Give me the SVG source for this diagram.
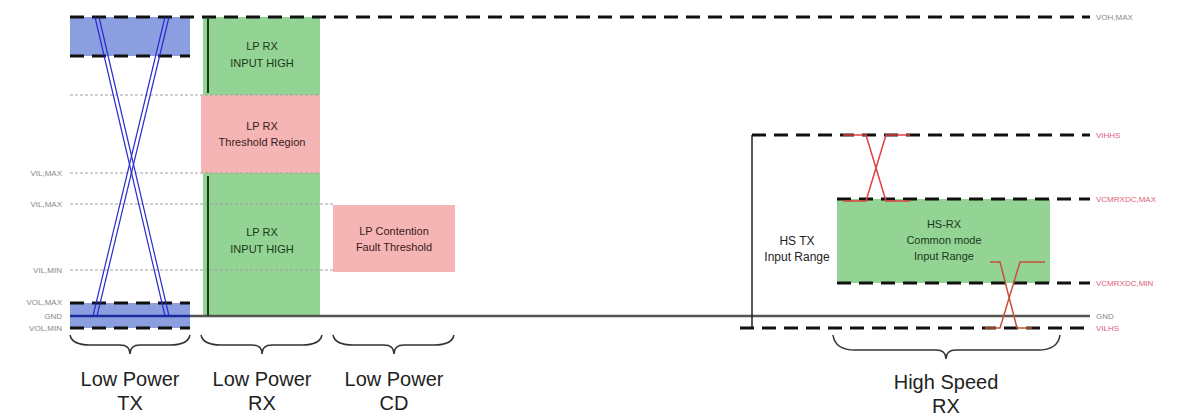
<svg xmlns="http://www.w3.org/2000/svg" width="1198" height="417" viewBox="0 0 1198 417">
<style>
.dash{stroke:#111;stroke-width:3;stroke-dasharray:14 8;fill:none}
.dot{stroke:#a0a0a0;stroke-width:1;stroke-dasharray:3 2;fill:none}
.blue{stroke:#2a2ad0;stroke-width:1.2;fill:none}
.red{stroke:#e04040;stroke-width:1.5;fill:none}
.brace{stroke:#333;stroke-width:1.5;fill:none}
.lbl{font-family:"Liberation Sans",Arial,sans-serif;font-size:8px;fill:#888}
.rlbl{font-family:"Liberation Sans",Arial,sans-serif;font-size:8px;fill:#e0607a}
.box{font-family:"Liberation Sans",Arial,sans-serif;font-size:11px;fill:#1a3a1a;text-anchor:middle}
.pbox{font-family:"Liberation Sans",Arial,sans-serif;font-size:11px;fill:#3a1a1a;text-anchor:middle}
.big{font-family:"Liberation Sans",Arial,sans-serif;font-size:20px;fill:#222;text-anchor:middle}
.mid{font-family:"Liberation Sans",Arial,sans-serif;font-size:12px;fill:#222;text-anchor:middle}
</style>
<rect width="1198" height="417" fill="#fff"/>
<g id="lp-tx">
<rect x="70" y="17" width="120" height="39" fill="#8b9fe0"/>
<rect x="70" y="303" width="120" height="25" fill="#8b9fe0"/>
</g>
<g id="lp-rx-high">
<rect x="203" y="17" width="117" height="78" fill="#93d393"/>
<text class="box" x="262" y="50">LP RX</text>
<text class="box" x="262" y="67">INPUT HIGH</text>
</g>
<g id="lp-rx-threshold">
<rect x="201" y="95" width="119" height="78" fill="#f5b5b5"/>
<text class="pbox" x="262" y="130">LP RX</text>
<text class="pbox" x="262" y="146">Threshold Region</text>
</g>
<g id="lp-rx-low">
<rect x="203" y="173" width="117" height="143" fill="#93d393"/>
<text class="box" x="262" y="236">LP RX</text>
<text class="box" x="262" y="253">INPUT HIGH</text>
</g>
<g id="lp-cd">
<rect x="333" y="205" width="122" height="67" fill="#f5b5b5"/>
<text class="pbox" x="394" y="235">LP Contention</text>
<text class="pbox" x="394" y="251">Fault Threshold</text>
</g>
<g id="hs-rx">
<rect x="837" y="199" width="213" height="84" fill="#93d393"/>
<text class="box" x="944" y="228">HS-RX</text>
<text class="box" x="944" y="244">Common mode</text>
<text class="box" x="944" y="260">Input Range</text>
</g>
<g id="hs-tx">
<text class="mid" x="797" y="245">HS TX</text>
<text class="mid" x="797" y="261">Input Range</text>
</g>
<g id="connectors">
<line class="dot" x1="70" y1="95" x2="320" y2="95"/>
<line class="dot" x1="70" y1="173" x2="320" y2="173"/>
<line class="dot" x1="70" y1="204" x2="333" y2="204"/>
<line class="dot" x1="70" y1="270" x2="333" y2="270"/>
<line class="dash" x1="70" y1="17" x2="1090" y2="17"/>
<line class="dash" x1="70" y1="56" x2="190" y2="56"/>
<line class="dash" x1="70" y1="303" x2="190" y2="303"/>
<line class="dash" x1="70" y1="328" x2="190" y2="328"/>
<line x1="190" y1="316" x2="1090" y2="316" stroke="#555" stroke-width="2.5"/>
<line x1="70" y1="316" x2="190" y2="316" stroke="#1a2a9a" stroke-width="2.5"/>
<line x1="208" y1="17" x2="208" y2="93" stroke="#1a3a1a" stroke-width="2"/>
<line x1="208" y1="176" x2="208" y2="316" stroke="#1a3a1a" stroke-width="2"/>
<line class="blue" x1="95" y1="17" x2="165" y2="316"/>
<line class="blue" x1="99" y1="17" x2="169" y2="316"/>
<line class="blue" x1="165" y1="17" x2="93" y2="316"/>
<line class="blue" x1="169" y1="17" x2="97" y2="316"/>
<polyline points="752,328 752,135" stroke="#222" stroke-width="1.5" fill="none"/>
<line class="dash" x1="752" y1="135" x2="1090" y2="135"/>
<line class="dash" x1="837" y1="199" x2="1090" y2="199"/>
<line class="dash" x1="837" y1="283" x2="1090" y2="283"/>
<line class="dash" x1="740" y1="328" x2="1090" y2="328"/>
<polyline class="red" points="843,135 866,135 886,201 910,201"/>
<polyline class="red" points="843,201 866,201 886,135 910,135"/>
<polyline points="985,328 1000,328 1020,262 1045,262" stroke="#c8503a" stroke-width="1.5" fill="none"/>
<polyline points="990,262 1000,262 1017,328 1032,328" stroke="#c8503a" stroke-width="1.5" fill="none"/>
<path class="brace" d="M70,335 Q72,345 90,345 L120,345 Q130,345 130,354 Q130,345 140,345 L170,345 Q188,345 190,335"/>
<path class="brace" d="M201,335 Q203,345 221,345 L252,345 Q262,345 262,354 Q262,345 272,345 L302,345 Q320,345 322,335"/>
<path class="brace" d="M333,335 Q335,345 353,345 L384,345 Q394,345 394,354 Q394,345 404,345 L434,345 Q452,345 454,335"/>
<path class="brace" d="M833,335 Q835,350 855,350 L936,350 Q946,350 946,359 Q946,350 956,350 L1038,350 Q1058,350 1060,335"/>
</g>
<g id="labels">
<text class="lbl" x="62" y="176" text-anchor="end">VIL,MAX</text>
<text class="lbl" x="62" y="207" text-anchor="end">VIL,MAX</text>
<text class="lbl" x="62" y="273" text-anchor="end">VIL,MIN</text>
<text class="lbl" x="62" y="305" text-anchor="end">VOL,MAX</text>
<text class="lbl" x="62" y="319" text-anchor="end">GND</text>
<text class="lbl" x="62" y="331" text-anchor="end">VOL,MIN</text>
<text class="lbl" x="1096" y="20">VOH,MAX</text>
<text class="rlbl" x="1096" y="138">VIHHS</text>
<text class="rlbl" x="1096" y="202">VCMRXDC,MAX</text>
<text class="rlbl" x="1096" y="286">VCMRXDC,MIN</text>
<text class="lbl" x="1096" y="319">GND</text>
<text class="rlbl" x="1096" y="331">VILHS</text>
<text class="big" x="130" y="386">Low Power</text>
<text class="big" x="130" y="410">TX</text>
<text class="big" x="262" y="386">Low Power</text>
<text class="big" x="262" y="410">RX</text>
<text class="big" x="394" y="386">Low Power</text>
<text class="big" x="394" y="410">CD</text>
<text class="big" x="946" y="389">High Speed</text>
<text class="big" x="946" y="413">RX</text>
</g>
</svg>
